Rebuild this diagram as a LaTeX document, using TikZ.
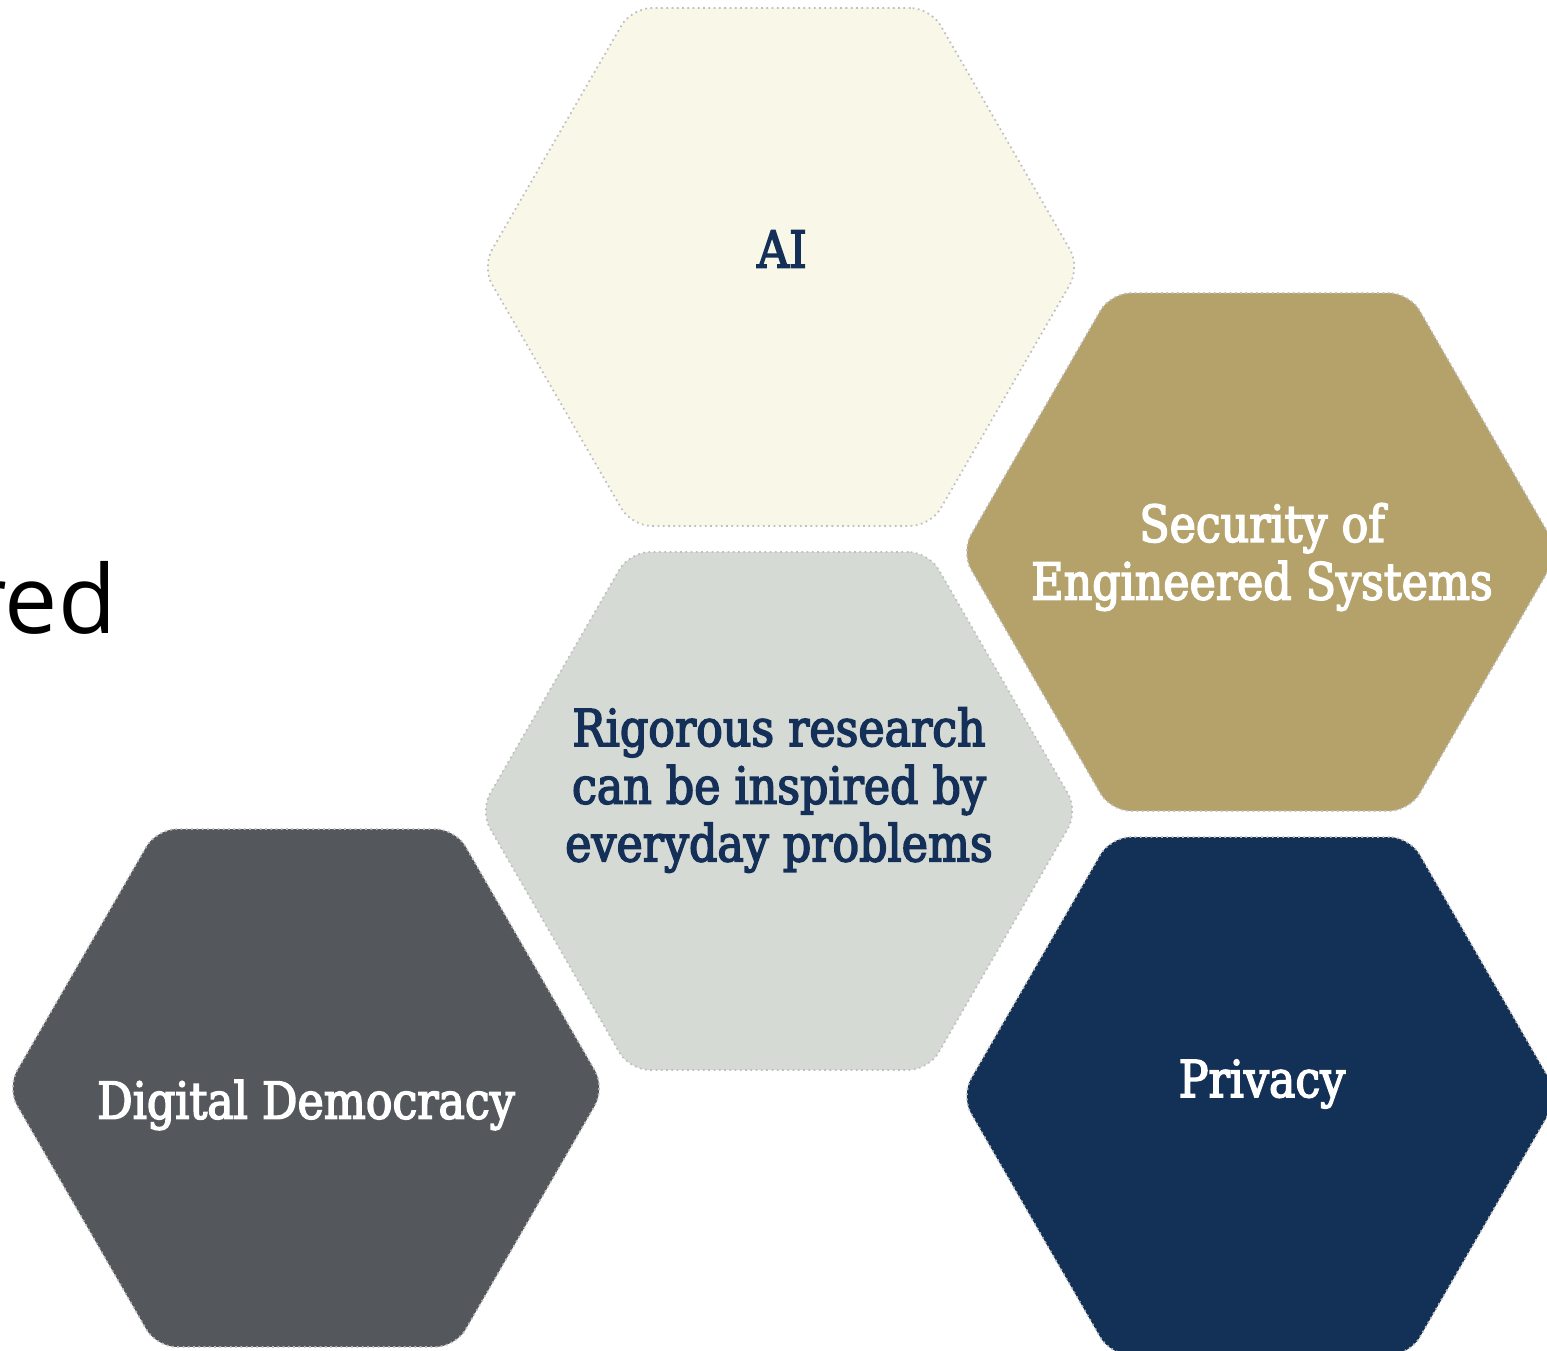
\documentclass[tikz,border=0pt]{standalone}
\usepackage{fontspec}
\usetikzlibrary{shapes.geometric}
\newfontfamily\hexfont{DejaVu Serif}[FakeStretch=0.87,FakeBold=3]
\newfontfamily\leadfont{Open Sans}
\definecolor{aicream}{RGB}{248,247,232}
\definecolor{sagegray}{RGB}{213,219,212}
\definecolor{sandgold}{RGB}{180,162,106}
\definecolor{navyblue}{RGB}{19,48,86}
\definecolor{slategray}{RGB}{84,88,92}
\definecolor{textnavy}{RGB}{20,48,88}

\begin{document}
\begin{tikzpicture}[x=0.1mm,y=-0.1mm,
  hexcell/.style={regular polygon,regular polygon sides=6,minimum size=59.8mm,
    inner sep=0pt,rounded corners=2mm,draw=black!25,densely dotted,line width=0.5pt},
  hexlabel/.style={align=center,inner sep=0pt,
    font=\hexfont\fontsize{14.5}{16.4}\selectfont},
  darklabel/.style={hexlabel,text=textnavy},
  lightlabel/.style={hexlabel,text=white}]

  \path[use as bounding box,clip] (0,0) rectangle (1547,1350);

  % cut-off heading on the left
  \node[anchor=base east,inner sep=0pt,font=\leadfont\fontsize{27}{30}\selectfont] (lead) at (117,633) {red};

  % honeycomb cells
  \node[hexcell,fill=aicream] (hexai) at (781,267) {};
  \node[hexcell,fill=sagegray] (hexcore) at (779,811) {};
  \node[hexcell,fill=sandgold] (hexsec) at (1260,552) {};
  \node[hexcell,fill=navyblue] (hexpriv) at (1260,1096) {};
  \node[hexcell,fill=slategray] (hexdemo) at (306,1088) {};

  % cell texts
  \node[darklabel] (ai) at (782,249) {AI};
  \node[darklabel] (rigor) at (779,790) {Rigorous research\\can be inspired by\\everyday problems};
  \node[lightlabel] (sec) at (1262,557) {Security of\\Engineered Systems};
  \node[lightlabel] (priv) at (1262,1084) {Privacy};
  \node[lightlabel] (demo) at (306,1105) {Digital Democracy};

\end{tikzpicture}
\end{document}
